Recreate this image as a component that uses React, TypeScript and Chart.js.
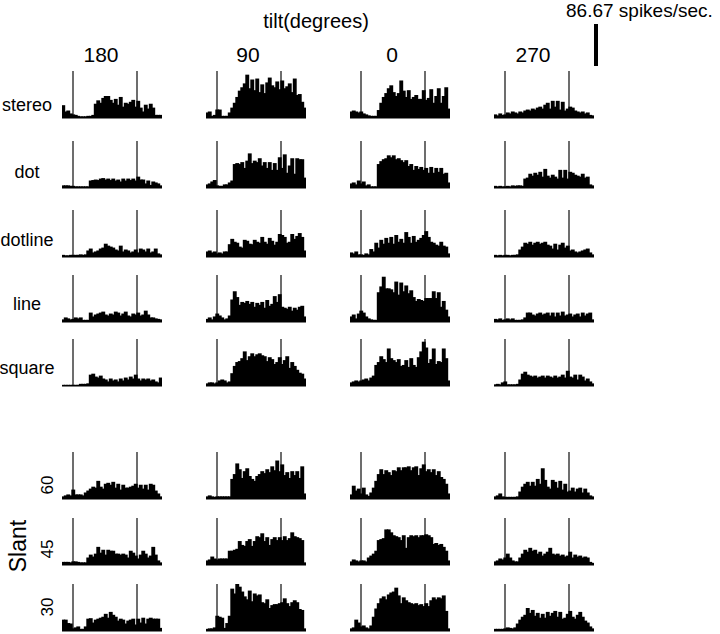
import React, { useEffect, useRef } from "react";
import { Chart, registerables } from "chart.js";
Chart.register(...registerables);

// ---------- labels ----------
const TILTS = ["180", "90", "0", "270"];
const STIMULI = ["stereo", "dot", "dotline", "line", "square"];
const SLANTS = ["60", "45", "30"];
const TITLE = "tilt(degrees)";
const SCALE_LABEL = "86.67 spikes/sec.";
const SCALE_VALUE = 86.67;
const Y_MAX = 97; // spikes/sec at top of each panel (marker height)
const N_BINS = 40;
const MARKERS = [4.4, 30]; // stimulus on / off (bin units)

// ---------- data (spikes/sec per bin) ----------
const stereo_180 = [25,12,14,8,6,5,3,2,2,2,3,3,5,28,35,30,40,44,44,36,30,38,26,42,22,30,28,32,36,22,34,20,12,26,18,28,20,5,5,5];
const stereo_90 = [10,12,3,5,16,16,3,3,3,10,20,30,42,55,62,70,88,60,78,56,80,52,68,50,72,82,66,62,74,58,76,60,64,70,52,80,46,48,32,20];
const stereo_0 = [12,14,12,10,12,8,6,4,3,3,3,15,30,42,50,60,66,52,44,50,76,55,42,56,38,42,46,38,38,56,36,40,58,30,44,60,30,44,62,18];
const stereo_270 = [6,4,8,5,6,10,8,12,10,8,12,10,14,16,14,18,16,20,22,18,26,30,18,34,22,34,16,32,14,18,22,20,14,12,10,12,8,10,5,4];

const dot_180 = [4,4,4,3,3,2,2,2,2,2,2,14,15,16,15,18,19,16,18,15,18,14,16,12,18,14,18,15,18,14,22,16,16,8,14,5,12,10,8,4];
const dot_90 = [6,8,12,15,4,3,3,6,6,10,14,48,50,48,52,40,55,70,50,55,52,60,45,52,40,52,36,50,36,62,40,68,30,45,60,28,60,58,58,20];
const dot_0 = [8,10,6,14,8,12,4,6,2,2,2,48,54,58,60,66,62,66,58,60,56,52,56,44,48,36,44,38,42,36,40,30,42,30,40,32,40,28,30,10];
const dot_270 = [3,2,3,2,2,3,2,4,3,4,4,3,18,20,28,24,30,26,32,22,38,24,20,26,22,18,36,20,36,18,32,30,26,24,22,28,20,22,6,4];

const dotline_180 = [3,2,2,3,3,3,3,4,3,4,12,16,8,10,12,16,18,26,22,20,18,14,12,22,10,14,12,8,10,14,8,16,14,10,16,8,10,16,6,4];
const dotline_90 = [10,12,8,10,6,8,6,10,10,25,36,30,28,20,18,34,32,26,25,34,30,28,40,30,26,38,32,24,30,46,44,40,28,30,46,36,42,48,40,12];
const dotline_0 = [8,6,10,4,4,3,6,4,15,10,28,18,34,26,38,28,40,26,44,30,36,28,50,40,28,42,30,34,38,44,52,40,30,28,24,22,30,22,20,6];
const dotline_270 = [3,2,3,2,3,3,2,3,3,4,14,20,28,26,30,24,28,30,26,28,30,24,22,16,26,14,24,28,18,22,12,14,10,8,10,12,14,16,8,4];

const line_180 = [4,8,6,4,5,8,6,8,3,3,3,18,10,14,16,18,20,14,12,16,14,20,18,12,16,20,12,10,16,14,18,12,14,22,14,8,8,6,5,4];
const line_90 = [5,8,4,10,16,12,8,4,6,12,45,62,50,34,40,38,42,36,40,30,38,34,40,28,44,32,36,52,40,56,30,28,26,30,22,28,24,30,32,10];
const line_0 = [10,14,6,16,22,18,10,6,4,3,3,60,72,92,68,68,66,60,82,55,80,62,74,58,64,50,42,46,44,42,48,48,48,62,48,60,30,42,24,10];
const line_270 = [5,4,6,3,4,6,4,6,3,3,3,4,8,18,18,14,12,16,18,14,16,18,12,18,10,18,12,20,12,14,16,10,14,16,10,18,12,16,18,4];

const square_180 = [1,1,1,1,1,1,1,3,3,3,4,22,24,18,16,20,14,12,8,14,10,12,8,14,10,16,12,18,14,22,14,10,14,12,14,10,12,8,6,16];
const square_90 = [4,6,6,4,6,10,12,10,6,8,25,40,48,50,56,70,52,60,66,60,64,66,62,60,50,58,54,44,48,58,44,52,60,36,48,40,32,26,24,14];
const square_0 = [6,8,10,8,10,12,14,10,16,20,42,48,60,54,48,76,56,52,48,54,40,42,52,38,56,42,38,58,70,90,78,46,54,76,44,50,48,76,56,10];
const square_270 = [2,3,2,6,8,2,2,2,2,3,12,24,28,22,20,18,20,16,18,20,16,20,18,16,20,16,18,22,16,30,18,16,22,12,22,18,10,14,8,4];

const slant60_180 = [4,6,8,6,18,8,8,8,6,12,16,20,24,22,36,24,20,30,32,28,34,22,30,18,28,22,22,24,26,30,22,28,20,28,18,30,28,16,10,4];
const slant60_90 = [4,6,4,3,4,4,4,4,4,4,40,50,72,60,42,56,62,46,40,36,46,50,56,52,60,54,66,58,78,56,70,48,54,42,56,48,56,42,66,10];
const slant60_0 = [8,26,16,20,10,22,8,5,12,22,36,50,60,50,58,54,48,58,56,64,58,64,64,66,58,64,66,48,62,70,56,60,54,60,48,56,44,40,30,10];
const slant60_270 = [4,6,10,4,3,3,3,3,3,4,14,24,30,34,26,34,26,40,30,62,38,24,20,38,34,22,36,18,30,14,16,22,14,20,22,12,20,12,6,4];

const slant45_180 = [5,5,5,4,6,6,5,4,4,4,14,20,16,22,36,24,30,20,30,28,28,22,22,20,22,20,14,28,24,18,12,20,28,22,14,18,36,20,8,4];
const slant45_90 = [8,10,16,12,10,12,12,12,12,28,28,30,32,48,40,38,48,52,38,48,58,56,64,48,56,40,52,56,50,56,50,58,50,54,66,58,56,54,50,4];
const slant45_0 = [6,10,8,6,8,8,6,14,18,22,28,50,52,54,72,72,66,60,58,56,50,60,34,56,60,58,60,56,60,60,62,60,56,42,44,40,42,36,28,8];
const slant45_270 = [6,8,12,10,14,22,14,8,6,6,14,22,30,26,34,28,30,22,26,18,22,26,34,22,20,22,18,20,16,18,26,14,20,16,18,14,16,14,5,3];

const slant30_180 = [22,22,15,14,4,6,8,3,3,8,24,25,16,22,24,26,28,34,26,38,32,28,20,24,22,14,20,22,24,12,24,16,26,14,24,26,24,24,24,5];
const slant30_90 = [3,4,4,6,30,28,26,5,15,30,86,76,98,90,80,70,64,82,60,76,72,74,58,56,64,46,52,54,54,56,58,66,56,50,58,62,58,44,42,4];
const slant30_0 = [4,6,22,16,8,10,6,4,10,28,45,56,66,70,64,74,78,80,88,72,56,68,62,58,56,54,56,52,54,50,56,50,62,68,64,68,66,72,40,4];
const slant30_270 = [3,3,3,3,4,6,5,4,6,14,22,28,32,46,36,42,30,36,26,34,26,38,30,36,40,28,38,24,26,34,40,28,24,32,38,28,20,16,8,4];

const GRID = [
  [stereo_180, stereo_90, stereo_0, stereo_270],
  [dot_180, dot_90, dot_0, dot_270],
  [dotline_180, dotline_90, dotline_0, dotline_270],
  [line_180, line_90, line_0, line_270],
  [square_180, square_90, square_0, square_270],
  [slant60_180, slant60_90, slant60_0, slant60_270],
  [slant45_180, slant45_90, slant45_0, slant45_270],
  [slant30_180, slant30_90, slant30_0, slant30_270],
];

// ---------- layout ----------
const COL_LEFT = [62, 206, 350, 494];
const ROW_TOP = [71, 141, 210, 275, 339, 452, 518, 584];
const PANEL_W = 100;
const PLOT_H = 47;
const PAD_B = 2;
const FONT = '"Liberation Sans", Arial, sans-serif';

function Panel({ values, left, top }: { values: number[]; left: number; top: number }) {
  const ref = useRef<HTMLCanvasElement>(null);
  useEffect(() => {
    const chart = new Chart(ref.current!, {
      type: "bar",
      data: {
        datasets: [
          {
            type: "bar",
            data: values.map((v, i) => ({ x: i + 0.5, y: v })),
            backgroundColor: "#000",
            borderWidth: 0,
            barPercentage: 1,
            categoryPercentage: 1,
            inflateAmount: 0.7,
          } as any,
          ...MARKERS.map((m) => ({
            type: "line",
            data: [{ x: m, y: 0 }, { x: m, y: Y_MAX }],
            borderColor: "#3c3c3c",
            borderWidth: 1.5,
            pointRadius: 0,
            clip: false,
          })),
          {
            type: "line",
            data: [{ x: 0, y: 0 }, { x: N_BINS, y: 0 }],
            borderColor: "#555",
            borderWidth: 1.5,
            pointRadius: 0,
            clip: false,
          } as any,
        ],
      },
      options: {
        animation: false,
        responsive: false,
        maintainAspectRatio: false,
        layout: { padding: { left: 0, right: 0, top: 0, bottom: PAD_B } },
        plugins: { legend: { display: false }, tooltip: { enabled: false } },
        scales: {
          x: { type: "linear", min: 0, max: N_BINS, offset: false, display: false, grid: { offset: false } },
          y: { min: 0, max: Y_MAX, display: false },
        },
      },
    });
    return () => chart.destroy();
  }, [values]);
  return (
    <canvas
      ref={ref}
      width={PANEL_W}
      height={PLOT_H + PAD_B}
      style={{ position: "absolute", left, top, width: PANEL_W, height: PLOT_H + PAD_B }}
    />
  );
}

function Txt({ x, y, size, children, rotate }: { x: number; y: number; size: number; children: any; rotate?: boolean }) {
  return (
    <div
      style={{
        position: "absolute",
        left: x,
        top: y,
        fontFamily: FONT,
        fontSize: size,
        lineHeight: 1,
        whiteSpace: "nowrap",
        color: "#000",
        transform: `translate(-50%, -50%)${rotate ? " rotate(-90deg)" : ""}`,
      }}
    >
      {children}
    </div>
  );
}

export default function App() {
  const TILT_X = [101, 248, 392, 533];
  const STIM_Y = [105, 172, 240, 304, 368];
  const SLANT_Y = [485, 549, 607];
  const scaleBarH = (SCALE_VALUE / Y_MAX) * PLOT_H;
  return (
    <div style={{ position: "absolute", left: 0, top: 0, width: 720, height: 634, background: "#fff", overflow: "hidden" }}>
      <div style={{ position: "absolute", left: 566, top: 1, fontFamily: FONT, fontSize: 19, lineHeight: 1, whiteSpace: "nowrap" }}>
        {SCALE_LABEL}
      </div>
      <div style={{ position: "absolute", left: 594, top: 66 - scaleBarH, width: 4, height: scaleBarH, background: "#000" }} />
      <Txt x={316} y={21} size={20}>{TITLE}</Txt>
      {TILTS.map((t, i) => (
        <Txt key={t} x={TILT_X[i]} y={54} size={21}>{t}</Txt>
      ))}
      {STIMULI.map((s, i) => (
        <Txt key={s} x={27} y={STIM_Y[i]} size={18}>{s}</Txt>
      ))}
      {SLANTS.map((s, i) => (
        <Txt key={s} x={47} y={SLANT_Y[i]} size={17} rotate>{s}</Txt>
      ))}
      <Txt x={18} y={546} size={23} rotate>Slant</Txt>
      {GRID.map((row, r) =>
        row.map((vals, c) => (
          <Panel key={`${r}-${c}`} values={vals} left={COL_LEFT[c]} top={ROW_TOP[r]} />
        ))
      )}
    </div>
  );
}
